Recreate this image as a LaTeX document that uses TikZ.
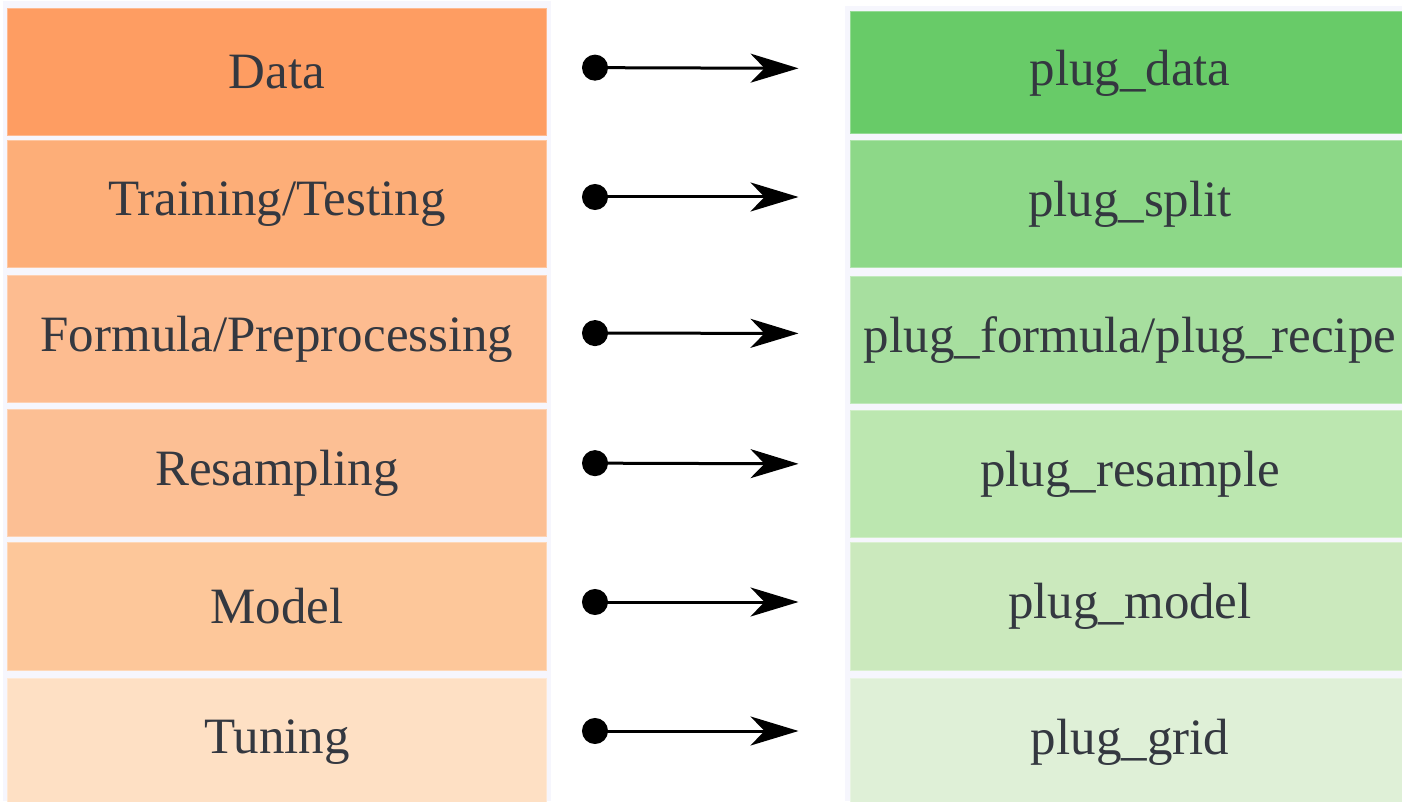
\documentclass[tikz,border=0pt]{standalone}
\usepackage{fontspec}
\setmainfont{Liberation Serif}
\usetikzlibrary{arrows.meta}

\definecolor{ink}{HTML}{343840}
\definecolor{lav}{HTML}{F6F6FD}
\definecolor{or1}{HTML}{FE9D62}
\definecolor{or2}{HTML}{FDAE78}
\definecolor{or3}{HTML}{FDBC90}
\definecolor{or4}{HTML}{FCBF94}
\definecolor{or5}{HTML}{FDC79A}
\definecolor{or6}{HTML}{FEE0C4}
\definecolor{gr1}{HTML}{68CB68}
\definecolor{gr2}{HTML}{8DD888}
\definecolor{gr3}{HTML}{A7DF9F}
\definecolor{gr4}{HTML}{BCE7B0}
\definecolor{gr5}{HTML}{CBE9BD}
\definecolor{gr6}{HTML}{DFF0D7}

\tikzset{
  stage/.style={rectangle, fill=#1, draw=#1!70!white, line width=0.02cm,
    minimum width=10.76cm, minimum height=2.54cm, inner sep=0pt,
    text=ink, font=\fontsize{29}{34}\selectfont},
  plug/.style={stage=#1, minimum width=11.2cm},
  link/.style={line width=0.06cm,
    {Circle[length=0.52cm]}-{Stealth[length=0.96cm,width=0.58cm,inset=0.28cm]},
    shorten <=0.71cm, shorten >=1.02cm}
}

\begin{document}
\begin{tikzpicture}
\useasboundingbox (0,0) rectangle (28.04,16.02);
\fill[white] (0,0) rectangle (28.04,16.02);
\fill[lav] (0.06,0) rectangle (11.02,16.0);
\fill[lav] (16.9,0) rectangle (28.04,15.9);

\node[stage=or1] (data) at (5.54,14.58) {Data};
\node[stage=or2] (split) at (5.54,11.93) {Training/Testing};
\node[stage=or3] (formula) at (5.54,9.23) {Formula/Preprocessing};
\node[stage=or4] (resample) at (5.54,6.55) {Resampling};
\node[stage=or5] (model) at (5.54,3.89) {Model};
\node[stage=or6] (tuning) at (5.54,1.18) {Tuning};

\node[plug=gr1, minimum height=2.44cm] (pdata) at (22.6,14.56) {plug\_data};
\node[plug=gr2] (psplit) at (22.6,11.93) {plug\_split};
\node[plug=gr3] (pformula) at (22.6,9.22) {plug\_formula/plug\_recipe};
\node[plug=gr4] (presample) at (22.6,6.53) {plug\_resample};
\node[plug=gr5] (pmodel) at (22.6,3.89) {plug\_model};
\node[plug=gr6] (pgrid) at (22.6,1.18) {plug\_grid};

\foreach \a/\b/\s in {data/pdata/0.09,split/psplit/0.15,formula/pformula/0.13,
  resample/presample/0.21,model/pmodel/0.09,tuning/pgrid/0.22}{
\draw[link] ([yshift=\s cm]\a.east) -- ([yshift=\s cm]\b.west);
}
\end{tikzpicture}
\end{document}
